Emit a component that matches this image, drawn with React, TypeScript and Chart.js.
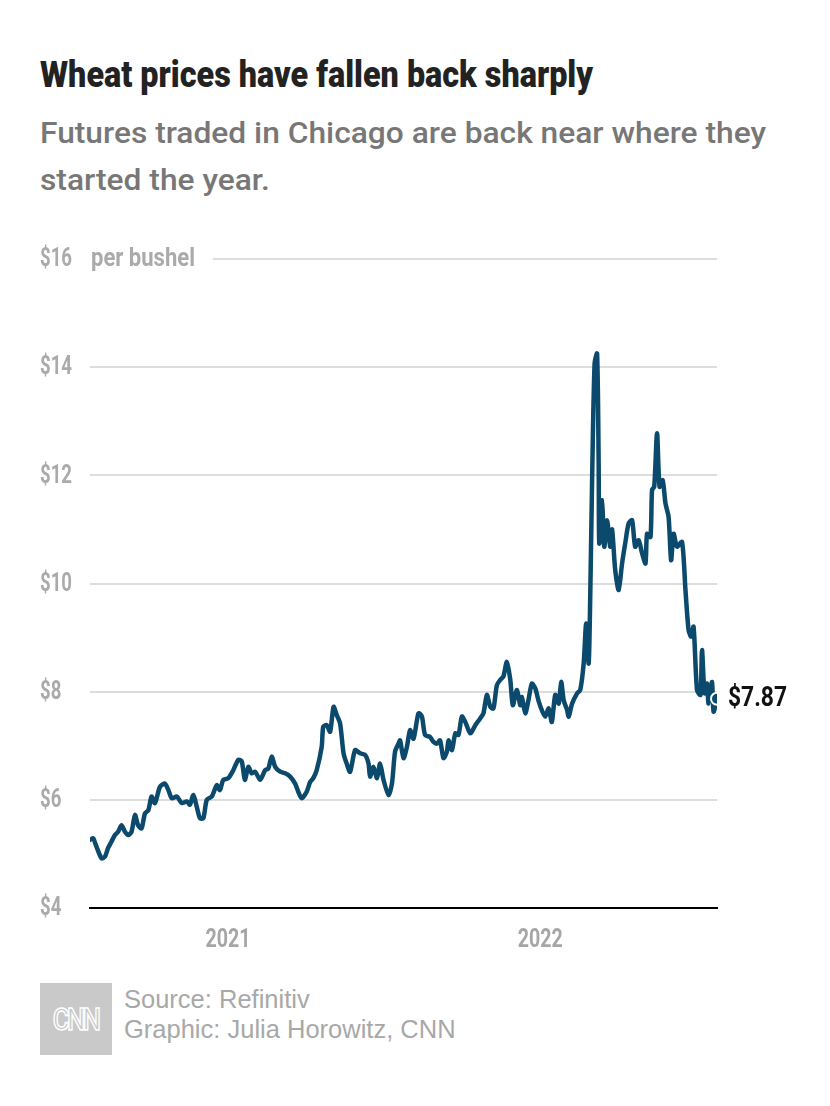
import React, { useEffect, useRef } from "react";
import { Chart, registerables } from "chart.js";

Chart.register(...registerables);

// Decimal-year positions of the price readings (2021.0 = 1 Jan 2021)
const yearPos = [
  2020.558, 2020.568, 2020.579, 2020.595, 2020.606, 2020.616, 2020.627, 2020.638, 2020.648, 2020.659,
  2020.670, 2020.680, 2020.691, 2020.702, 2020.712, 2020.723, 2020.734, 2020.745, 2020.755, 2020.766,
  2020.782, 2020.798, 2020.809, 2020.820, 2020.836, 2020.852, 2020.868, 2020.878, 2020.889, 2020.900,
  2020.910, 2020.921, 2020.932, 2020.948, 2020.964, 2020.974, 2020.985, 2021.001, 2021.017, 2021.033,
  2021.044, 2021.054, 2021.065, 2021.076, 2021.087, 2021.103, 2021.119, 2021.129, 2021.140, 2021.151,
  2021.167, 2021.183, 2021.199, 2021.215, 2021.225, 2021.236, 2021.252, 2021.263, 2021.273, 2021.284,
  2021.300, 2021.305, 2021.316, 2021.327, 2021.338, 2021.348, 2021.359, 2021.370, 2021.380, 2021.391,
  2021.407, 2021.423, 2021.439, 2021.450, 2021.455, 2021.466, 2021.477, 2021.487, 2021.498, 2021.514,
  2021.525, 2021.535, 2021.546, 2021.551, 2021.562, 2021.573, 2021.583, 2021.594, 2021.610, 2021.621,
  2021.631, 2021.647, 2021.658, 2021.669, 2021.679, 2021.690, 2021.701, 2021.706, 2021.717, 2021.728,
  2021.738, 2021.749, 2021.760, 2021.776, 2021.792, 2021.808, 2021.818, 2021.829, 2021.840, 2021.850,
  2021.861, 2021.872, 2021.882, 2021.893, 2021.904, 2021.912, 2021.925, 2021.936, 2021.941, 2021.952,
  2021.962, 2021.973, 2021.984, 2021.995, 2022.005, 2022.016, 2022.027, 2022.037, 2022.048, 2022.059,
  2022.067, 2022.075, 2022.086, 2022.091, 2022.102, 2022.118, 2022.128, 2022.139, 2022.147, 2022.155,
  2022.160, 2022.166, 2022.174, 2022.182, 2022.187, 2022.189, 2022.198, 2022.205, 2022.214, 2022.224,
  2022.230, 2022.240, 2022.251, 2022.262, 2022.272, 2022.283, 2022.294, 2022.304, 2022.315, 2022.326,
  2022.337, 2022.342, 2022.353, 2022.358, 2022.365, 2022.374, 2022.382, 2022.392, 2022.401, 2022.411,
  2022.419, 2022.427, 2022.438, 2022.454, 2022.465, 2022.475, 2022.483, 2022.491, 2022.502, 2022.513,
  2022.518, 2022.526, 2022.534, 2022.539, 2022.550, 2022.555, 2022.566,
];

// Chicago wheat futures, $ per bushel
const prices = [
  5.26, 5.29, 5.13, 4.92, 4.95, 5.11, 5.23, 5.35, 5.41, 5.53,
  5.41, 5.35, 5.41, 5.72, 5.53, 5.47, 5.75, 5.81, 6.06, 5.94,
  6.24, 6.30, 6.18, 6.03, 6.06, 5.94, 5.97, 5.91, 6.09, 5.87,
  5.66, 5.66, 6.00, 6.06, 6.27, 6.18, 6.37, 6.40, 6.55, 6.74,
  6.71, 6.37, 6.61, 6.49, 6.52, 6.37, 6.55, 6.58, 6.80, 6.61,
  6.52, 6.49, 6.43, 6.30, 6.15, 6.03, 6.15, 6.33, 6.40, 6.55,
  6.98, 7.35, 7.38, 7.26, 7.72, 7.57, 7.41, 6.86, 6.67, 6.52,
  6.92, 6.86, 6.83, 6.67, 6.43, 6.61, 6.40, 6.67, 6.37, 6.09,
  6.30, 6.89, 7.04, 7.10, 6.77, 6.98, 7.29, 7.13, 7.60, 7.54,
  7.20, 7.16, 7.07, 7.04, 7.10, 6.77, 6.89, 7.10, 6.92, 7.23,
  7.20, 7.54, 7.44, 7.23, 7.38, 7.51, 7.60, 7.94, 7.72, 7.69,
  8.12, 8.22, 8.28, 8.55, 8.22, 7.75, 8.03, 7.75, 7.90, 7.60,
  7.84, 8.15, 8.06, 7.82, 7.66, 7.54, 7.69, 7.44, 7.94, 7.78,
  8.18, 7.84, 7.66, 7.54, 7.78, 7.97, 8.03, 8.52, 9.26, 8.52,
  9.75, 11.91, 14.07, 14.25, 12.22, 10.74, 11.54, 10.68, 11.17, 10.68,
  11.0, 10.25, 9.88, 10.37, 10.74, 11.11, 11.17, 10.68, 10.80, 10.56,
  10.37, 10.92, 10.86, 11.73, 11.79, 12.78, 11.79, 11.91, 11.48, 11.23,
  10.43, 10.92, 10.68, 10.77, 9.88, 9.14, 9.02, 9.20, 8.03, 7.94,
  8.77, 7.97, 8.15, 7.78, 8.18, 7.63, 7.87,
];

const xTickYears = [2021, 2022];
const yTickValues = [4, 6, 8, 10, 12, 14, 16];
const unitLabel = "per bushel";
const lastPriceLabel = "$7.87";
const titleText = "Wheat prices have fallen back sharply";
const subtitleLines = ["Futures traded in Chicago are back near where they", "started the year."];
const footerLines = ["Source: Refinitiv", "Graphic: Julia Horowitz, CNN"];

const LINE = "#0b4a6c";
const SANS = 'Roboto, "Noto Sans", sans-serif';
const PLAIN = '"Liberation Sans", Arial, sans-serif';

const measureCtx: CanvasRenderingContext2D | null =
  typeof document !== "undefined" ? document.createElement("canvas").getContext("2d") : null;

function textWidth(text: string, font: string) {
  if (!measureCtx) return 1;
  measureCtx.font = font;
  return measureCtx.measureText(text).width || 1;
}

// horizontally-condensed canvas text (the original uses a condensed face)
function drawCondensed(
  ctx: CanvasRenderingContext2D,
  text: string,
  x: number,
  y: number,
  font: string,
  sx: number,
  align: "left" | "center"
) {
  ctx.save();
  ctx.font = font;
  ctx.textBaseline = "middle";
  ctx.textAlign = "left";
  const w = ctx.measureText(text).width * sx;
  const x0 = align === "center" ? x - w / 2 : x;
  ctx.translate(x0, y);
  ctx.scale(sx, 1);
  ctx.fillText(text, 0, 0);
  ctx.restore();
}

const TICK_FONT = `bold 25px ${SANS}`;
const VALUE_FONT = `bold 27px ${SANS}`;

const overlayPlugin = {
  id: "overlay",
  afterDraw(chart: any) {
    const { ctx, chartArea, scales } = chart;
    const y = scales.y;
    const x = scales.x;
    const ySx = 32 / textWidth("$16", TICK_FONT);
    const unitSx = 104 / textWidth(unitLabel, TICK_FONT);
    const xSx = 45 / textWidth("2021", TICK_FONT);
    const vSx = 59 / textWidth(lastPriceLabel, VALUE_FONT);
    ctx.save();
    // y tick labels
    ctx.fillStyle = "#aaaaaa";
    y.ticks.forEach((t: any) => {
      drawCondensed(ctx, "$" + t.value, 40, y.getPixelForValue(t.value) + 1, TICK_FONT, ySx, "left");
    });
    const yTop = y.getPixelForValue(16);
    drawCondensed(ctx, unitLabel, chartArea.left + 1, yTop + 1, TICK_FONT, unitSx, "left");
    // top gridline starts after the unit label
    ctx.strokeStyle = "#dddddd";
    ctx.lineWidth = 2;
    ctx.beginPath();
    ctx.moveTo(213, yTop);
    ctx.lineTo(chartArea.right, yTop);
    ctx.stroke();
    // x tick labels
    ctx.fillStyle = "#a6a6a6";
    x.ticks.forEach((t: any) => {
      drawCondensed(ctx, String(t.value), x.getPixelForValue(t.value), chartArea.bottom + 33, TICK_FONT, xSx, "center");
    });
    // last value label
    const meta = chart.getDatasetMeta(0);
    const last = meta.data[meta.data.length - 1];
    ctx.fillStyle = "#111";
    drawCondensed(ctx, lastPriceLabel, last.x + 11, last.y + 1, VALUE_FONT, vSx, "left");
    ctx.restore();
  },
};

function WheatChart() {
  const ref = useRef<HTMLCanvasElement | null>(null);
  useEffect(() => {
    if (!ref.current) return;
    const n = prices.length;
    const chart = new Chart(ref.current, {
      type: "line",
      data: {
        datasets: [
          {
            data: yearPos.map((x, i) => ({ x, y: prices[i] })),
            borderColor: LINE,
            backgroundColor: LINE,
            borderWidth: 4.5,
            tension: 0.25,
            borderJoinStyle: "round",
            borderCapStyle: "round",
            pointRadius: (c: any) => (c.dataIndex === n - 1 ? 6 : 0),
            pointBackgroundColor: LINE,
            pointBorderColor: "#ffffff",
            pointBorderWidth: 2,
            pointHoverRadius: 0,
          } as any,
        ],
      },
      options: {
        animation: false,
        responsive: false,
        maintainAspectRatio: false,
        layout: { padding: { left: 40, right: 113, top: 39, bottom: 10 } },
        plugins: { legend: { display: false }, tooltip: { enabled: false } },
        events: [],
        scales: {
          x: {
            type: "linear",
            min: yearPos[0],
            max: yearPos[yearPos.length - 1],
            afterBuildTicks: (s: any) => {
              s.ticks = xTickYears.map((v) => ({ value: v }));
            },
            afterFit: (s: any) => {
              s.height = 62;
            },
            grid: { display: false, drawTicks: false },
            border: { display: true, color: "#000", width: 2 },
            ticks: { display: false },
          },
          y: {
            type: "linear",
            min: 4,
            max: 16,
            afterBuildTicks: (s: any) => {
              s.ticks = yTickValues.map((v) => ({ value: v }));
            },
            afterFit: (s: any) => {
              s.width = 50;
            },
            grid: {
              drawTicks: false,
              lineWidth: 2,
              color: (c: any) =>
                c.tick && (c.tick.value === 16 || c.tick.value === 4) ? "rgba(0,0,0,0)" : "#dddddd",
            },
            border: { display: false },
            ticks: { display: false },
          },
        },
      } as any,
      plugins: [overlayPlugin],
    });
    return () => chart.destroy();
  }, []);
  return (
    <canvas
      ref={ref}
      width={830}
      height={760}
      style={{ position: "absolute", left: 0, top: 220, width: 830, height: 760 }}
    />
  );
}

export default function App() {
  const titleFont = `900 36px ${SANS}`;
  const titleSx = 553 / textWidth(titleText, titleFont);
  const subFont = `500 30px ${SANS}`;
  const subSx = 726 / textWidth(subtitleLines[0], subFont);
  return (
    <div
      style={{
        position: "absolute",
        left: 0,
        top: 0,
        width: 830,
        height: 1106,
        background: "#fff",
        overflow: "hidden",
      }}
    >
      <div
        style={{
          position: "absolute",
          left: 40,
          top: 55,
          font: titleFont,
          lineHeight: "40px",
          color: "#222",
          whiteSpace: "nowrap",
          transform: `scaleX(${titleSx})`,
          transformOrigin: "0 0",
        }}
      >
        {titleText}
      </div>
      {subtitleLines.map((line, i) => (
        <div
          key={i}
          style={{
            position: "absolute",
            left: 40,
            top: 109 + i * 47,
            font: subFont,
            lineHeight: "47px",
            color: "#777",
            whiteSpace: "nowrap",
            transform: `scaleX(${subSx})`,
            transformOrigin: "0 0",
          }}
        >
          {line}
        </div>
      ))}
      <WheatChart />
      <div
        style={{
          position: "absolute",
          left: 40,
          top: 983,
          width: 72,
          height: 72,
          background: "#c9c9c9",
          display: "flex",
          alignItems: "center",
          justifyContent: "center",
        }}
      >
        <span
          style={{
            fontFamily: SANS,
            fontSize: 32,
            fontWeight: 500,
            color: "#c9c9c9",
            WebkitTextStroke: "1.6px #fff",
            letterSpacing: -3,
            display: "inline-block",
            transform: "scaleX(0.8)",
          }}
        >
          CNN
        </span>
      </div>
      <div
        style={{
          position: "absolute",
          left: 124,
          top: 984,
          fontFamily: PLAIN,
          fontSize: 25.5,
          color: "#a8a8a8",
          lineHeight: "30px",
        }}
      >
        {footerLines.map((l, i) => (
          <div key={i} style={{ whiteSpace: "nowrap" }}>
            {l}
          </div>
        ))}
      </div>
    </div>
  );
}
